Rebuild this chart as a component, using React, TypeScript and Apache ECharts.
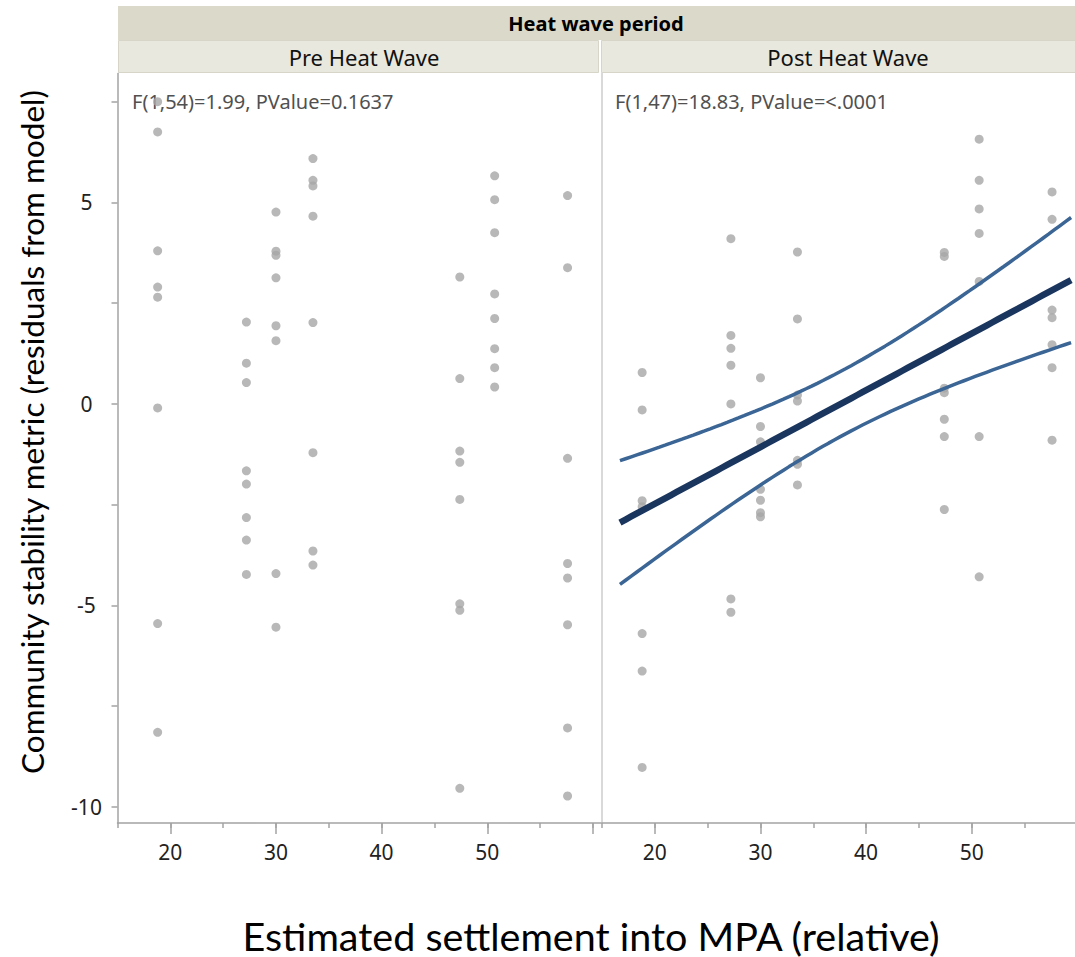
import React, { useEffect, useRef } from "react";
import * as echarts from "echarts";

// Settlement levels (x values shared by both panels)
const settlementLevels = [18.8, 27.2, 30.0, 33.5, 47.4, 50.7, 57.6];

// Residuals per settlement level, Pre Heat Wave panel
const preResiduals = [
  [7.5, 6.75, 3.8, 2.9, 2.65, -0.1, -5.45, -8.15],
  [2.03, 1.01, 0.53, -1.66, -1.99, -2.82, -3.38, -4.23],
  [4.76, 3.79, 3.69, 3.13, 1.94, 1.57, -4.21, -5.54],
  [6.09, 5.55, 5.41, 4.66, 2.02, -1.21, -3.65, -4.0],
  [3.15, 0.63, -1.17, -1.45, -2.37, -4.96, -5.12, -9.54],
  [5.66, 5.07, 4.25, 2.73, 2.12, 1.37, 0.9, 0.42],
  [5.17, 3.38, -1.35, -3.96, -4.32, -5.48, -8.04, -9.73],
];

// Residuals per settlement level, Post Heat Wave panel
const postResiduals = [
  [0.78, -0.15, -2.4, -2.55, -5.7, -6.63, -9.02],
  [4.1, 1.7, 1.38, 0.96, 0.0, -4.84, -5.17],
  [0.65, -0.56, -0.94, -2.12, -2.39, -2.7, -2.8],
  [3.77, 2.11, 0.22, 0.07, -1.4, -1.5, -2.01],
  [3.76, 3.66, 0.39, 0.28, -0.38, -0.81, -2.62],
  [6.57, 5.55, 4.84, 4.23, 3.04, -0.81, -4.29],
  [5.26, 4.58, 2.33, 2.14, 1.47, 0.9, -0.9],
];

const panelTitles = ["Pre Heat Wave", "Post Heat Wave"];
const groupTitle = "Heat wave period";
const statTexts = ["F(1,54)=1.99, PValue=0.1637", "F(1,47)=18.83, PValue=<.0001"];
const xTitle = "Estimated settlement into MPA (relative)";
const yTitle = "Community stability metric (residuals from model)";

const xMinorTicks = [15, 20, 25, 30, 35, 40, 45, 50, 55, 60];
const xMajorTicks = [20, 30, 40, 50, 60];
const xLabels = [20, 30, 40, 50];
const yTicks = [-10, -7.5, -5, -2.5, 0, 2.5, 5, 7.5];
const yLabels = [-10, -5, 0, 5];
const fitRange = [16.7, 59.4];
const tCrit = 2.0117; // t(0.975, 47)

function toPoints(groups: number[][]) {
  const pts: number[][] = [];
  groups.forEach((g, i) => g.forEach((v) => pts.push([settlementLevels[i], v])));
  return pts;
}

function fitWithBands(pts: number[][]) {
  const n = pts.length;
  const mx = pts.reduce((s, p) => s + p[0], 0) / n;
  const my = pts.reduce((s, p) => s + p[1], 0) / n;
  let sxx = 0,
    sxy = 0;
  pts.forEach((p) => {
    sxx += (p[0] - mx) ** 2;
    sxy += (p[0] - mx) * (p[1] - my);
  });
  const b = sxy / sxx;
  const a = my - b * mx;
  let sse = 0;
  pts.forEach((p) => {
    sse += (p[1] - (a + b * p[0])) ** 2;
  });
  const s = Math.sqrt(sse / (n - 2));
  const fit: number[][] = [];
  const upper: number[][] = [];
  const lower: number[][] = [];
  const steps = 80;
  for (let i = 0; i <= steps; i++) {
    const x = fitRange[0] + ((fitRange[1] - fitRange[0]) * i) / steps;
    const yh = a + b * x;
    const hw = tCrit * s * Math.sqrt(1 / n + (x - mx) ** 2 / sxx);
    fit.push([x, yh]);
    upper.push([x, yh + hw]);
    lower.push([x, yh - hw]);
  }
  return { fit, upper, lower };
}

const PLOT_TOP = 73.5;
const PLOT_BOTTOM = 134;
const G0_LEFT = 117.5;
const G0_WIDTH = 483.5;
const G1_LEFT = 602;
const G1_WIDTH = 473;
const PX_PER_UNIT = 10.565;

export default function App() {
  const ref = useRef<HTMLDivElement>(null);

  useEffect(() => {
    document.body.style.margin = "0";
    if (!ref.current) return;
    const chart = echarts.init(ref.current, undefined, { renderer: "svg" });

    const prePts = toPoints(preResiduals);
    const postPts = toPoints(postResiduals);
    const { fit, upper, lower } = fitWithBands(postPts);

    const axisGray = "#a3a3a3";
    const tickFont = "'Noto Sans', 'Open Sans', sans-serif";
    const titleFont = "Lato, 'Open Sans', sans-serif";

    const makeX = (gridIndex: number, max: number) => [
      {
        type: "value",
        gridIndex,
        min: 15,
        max,
        axisLine: { show: true, onZero: false, lineStyle: { color: axisGray, width: 1.5 } },
        axisTick: {
          show: true,
          length: 5,
          customValues: xMinorTicks.filter((v) => v <= max),
          lineStyle: { color: axisGray, width: 1.5 },
        },
        axisLabel: {
          show: true,
          customValues: xLabels,
          margin: 18,
          fontSize: 21,
          color: "#222",
          fontFamily: tickFont,
        },
        splitLine: { show: false },
      },
      {
        type: "value",
        gridIndex,
        min: 15,
        max,
        position: "bottom",
        axisLine: { show: false, onZero: false },
        axisTick: {
          show: true,
          length: 11,
          customValues: xMajorTicks.filter((v) => v <= max),
          lineStyle: { color: axisGray, width: 1.5 },
        },
        axisLabel: { show: false },
        splitLine: { show: false },
      },
    ];

    const g0Max = 15 + G0_WIDTH / PX_PER_UNIT;
    const g1Max = 15 + G1_WIDTH / PX_PER_UNIT;

    const option: any = {
      animation: false,
      backgroundColor: "#ffffff",
      grid: [
        { left: G0_LEFT, top: PLOT_TOP, width: G0_WIDTH, bottom: PLOT_BOTTOM },
        { left: G1_LEFT, top: PLOT_TOP, width: G1_WIDTH, bottom: PLOT_BOTTOM },
      ],
      xAxis: [...makeX(0, g0Max), ...makeX(1, g1Max)],
      yAxis: [
        {
          type: "value",
          gridIndex: 0,
          min: -10.4,
          max: 8.2,
          axisLine: { show: true, onZero: false, lineStyle: { color: axisGray, width: 1.5 } },
          axisTick: {
            show: true,
            length: 6,
            customValues: yTicks,
            lineStyle: { color: axisGray, width: 1.5 },
          },
          axisLabel: {
            show: true,
            customValues: yLabels,
            align: "center",
            margin: 31,
            fontSize: 21,
            color: "#222",
            fontFamily: tickFont,
          },
          splitLine: { show: false },
        },
        {
          type: "value",
          gridIndex: 1,
          min: -10.4,
          max: 8.2,
          axisLine: { show: true, onZero: false, lineStyle: { color: "#d9d9d9", width: 2 } },
          axisTick: { show: false },
          axisLabel: { show: false },
          splitLine: { show: false },
        },
      ],
      series: [
        {
          type: "scatter",
          xAxisIndex: 0,
          yAxisIndex: 0,
          data: prePts,
          symbol: "circle",
          symbolSize: 9,
          itemStyle: { color: "#a6a6a6" },
          z: 5,
        },
        {
          type: "scatter",
          xAxisIndex: 2,
          yAxisIndex: 1,
          data: postPts,
          symbol: "circle",
          symbolSize: 9,
          itemStyle: { color: "#a6a6a6" },
          z: 3,
        },
        {
          type: "line",
          xAxisIndex: 2,
          yAxisIndex: 1,
          data: upper,
          showSymbol: false,
          symbol: "none",
          lineStyle: { color: "#3b6594", width: 3.5 },
          z: 4,
        },
        {
          type: "line",
          xAxisIndex: 2,
          yAxisIndex: 1,
          data: lower,
          showSymbol: false,
          symbol: "none",
          lineStyle: { color: "#3b6594", width: 3.5 },
          z: 4,
        },
        {
          type: "line",
          xAxisIndex: 2,
          yAxisIndex: 1,
          data: fit,
          showSymbol: false,
          symbol: "none",
          lineStyle: { color: "#1a355e", width: 6.5 },
          z: 4,
        },
      ],
      graphic: [
        // header bands
        {
          type: "rect",
          shape: { x: 118, y: 6, width: 957, height: 34 },
          style: { fill: "#dbd9c9" },
          silent: true,
        },
        {
          type: "rect",
          shape: { x: 118.5, y: 40.5, width: 480, height: 32 },
          style: { fill: "#e9e8de", stroke: "#d6d5c8", lineWidth: 1 },
          silent: true,
        },
        {
          type: "rect",
          shape: { x: 601.5, y: 40.5, width: 474, height: 32 },
          style: { fill: "#e9e8de", stroke: "#d6d5c8", lineWidth: 1 },
          silent: true,
        },
        {
          type: "text",
          x: 596,
          y: 23,
          style: {
            text: groupTitle,
            fontSize: 20,
            fontWeight: "bold",
            fontFamily: tickFont,
            fill: "#000",
            align: "center",
            verticalAlign: "middle",
          },
        },
        {
          type: "text",
          x: 364,
          y: 57,
          style: {
            text: panelTitles[0],
            fontSize: 22,
            fontFamily: tickFont,
            fill: "#111",
            align: "center",
            verticalAlign: "middle",
          },
        },
        {
          type: "text",
          x: 848,
          y: 57,
          style: {
            text: panelTitles[1],
            fontSize: 22,
            fontFamily: tickFont,
            fill: "#111",
            align: "center",
            verticalAlign: "middle",
          },
        },
        {
          type: "text",
          x: 132,
          y: 101,
          z: 1,
          style: {
            text: statTexts[0],
            fontSize: 20,
            fontFamily: tickFont,
            fill: "#505050",
            align: "left",
            verticalAlign: "middle",
          },
        },
        {
          type: "text",
          x: 615,
          y: 101,
          z: 1,
          style: {
            text: statTexts[1],
            fontSize: 20,
            fontFamily: tickFont,
            fill: "#505050",
            align: "left",
            verticalAlign: "middle",
          },
        },
        {
          type: "text",
          x: 591,
          y: 935,
          style: {
            text: xTitle,
            fontSize: 39.5,
            fontFamily: titleFont,
            fill: "#000",
            align: "center",
            verticalAlign: "middle",
          },
        },
        {
          type: "text",
          x: 32,
          y: 432,
          rotation: Math.PI / 2,
          style: {
            text: yTitle,
            fontSize: 31.5,
            fontFamily: titleFont,
            fill: "#000",
            align: "center",
            verticalAlign: "middle",
          },
        },
      ],
    };

    chart.setOption(option);
    return () => chart.dispose();
  }, []);

  return <div ref={ref} style={{ width: 1075, height: 957 }} />;
}
